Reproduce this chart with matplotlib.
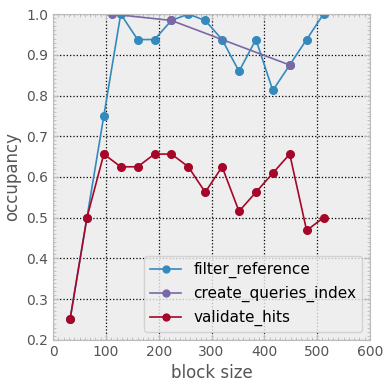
import matplotlib
matplotlib.use("Agg")
import matplotlib.pyplot as plt
from matplotlib.ticker import AutoMinorLocator, MultipleLocator

filter_x = [32, 64, 96, 128, 160, 192, 224, 256, 288, 320, 352, 384, 416, 448, 480, 512]
filter_y = [0.25, 0.5, 0.75, 1.0, 0.9375, 0.9375, 0.984375, 1.0, 0.984375, 0.9375,
            0.859375, 0.9375, 0.8125, 0.875, 0.9375, 1.0]
cqi_x = [112, 224, 448]
cqi_y = [1.0, 0.984375, 0.875]
val_x = [32, 64, 96, 128, 160, 192, 224, 256, 288, 320, 352, 384, 416, 448, 480, 512]
val_y = [0.25, 0.5, 0.65625, 0.625, 0.625, 0.65625, 0.65625, 0.625, 0.5625, 0.625,
         0.515625, 0.5625, 0.609375, 0.65625, 0.46875, 0.5]

txt = "#555555"
fig = plt.figure(figsize=(3.85, 3.81), dpi=100)
ax = fig.add_axes([0.138, 0.108, 0.823, 0.855])
ax.set_facecolor("#eeeeee")
for s in ax.spines.values():
    s.set_color("#bcbcbc")

ax.plot(filter_x, filter_y, "-o", color="#348ABD", lw=1.2, ms=5.5, label="filter_reference")
ax.plot(cqi_x, cqi_y, "-o", color="#7A68A6", lw=1.2, ms=5.5, label="create_queries_index")
ax.plot(val_x, val_y, "-o", color="#A60628", lw=1.2, ms=5.5, label="validate_hits")

ax.set_xlim(0, 600)
ax.set_ylim(0.2, 1.0)
ax.xaxis.set_major_locator(MultipleLocator(100))
ax.yaxis.set_major_locator(MultipleLocator(0.1))
ax.xaxis.set_minor_locator(AutoMinorLocator(10))
ax.yaxis.set_minor_locator(AutoMinorLocator(10))
ax.tick_params(which="both", direction="in", color="#bcbcbc", labelcolor=txt, labelsize=10,
               top=True, right=True)
ax.tick_params(which="major", length=4)
ax.tick_params(which="minor", length=2)
ax.grid(True, which="major", color="k", linestyle=":", linewidth=0.9)
ax.set_axisbelow(True)
ax.set_xlabel("block size", color=txt, fontsize=12)
ax.set_ylabel("occupancy", color=txt, fontsize=12)
leg = ax.legend(loc="lower right", fontsize=11, fancybox=True, framealpha=0.8,
                markerscale=0.9, borderaxespad=0.5)
leg.get_frame().set_facecolor("#eeeeee")
leg.get_frame().set_edgecolor("#cccccc")
fig.savefig("out.png", dpi=100)
